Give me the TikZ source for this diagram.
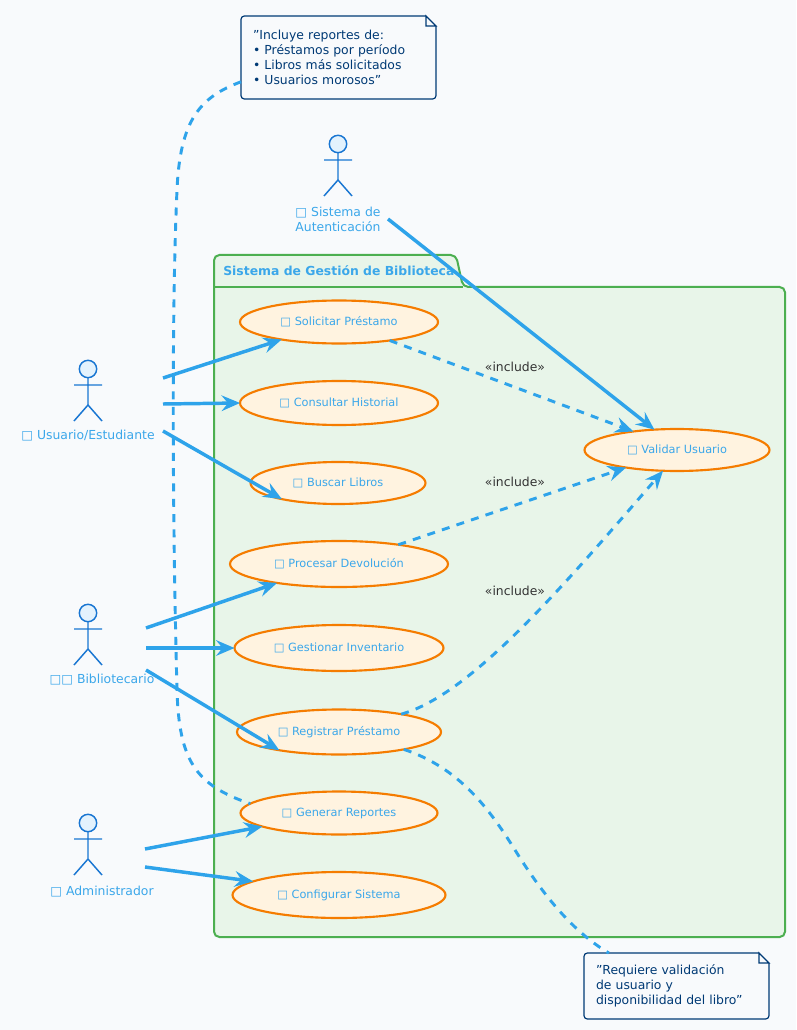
\documentclass[tikz,border=0pt]{standalone}
\usepackage{fontspec}
\setmainfont{DejaVu Sans}
\usetikzlibrary{positioning,arrows.meta,shapes.geometric}
\definecolor{pagebg}{HTML}{F8FAFC}
\definecolor{linkc}{HTML}{2EA3EA}
\definecolor{actorc}{HTML}{1976D2}
\definecolor{headc}{HTML}{E3F2FD}
\definecolor{usecasec}{HTML}{F57C00}
\definecolor{usefill}{HTML}{FFF3E0}
\definecolor{pkgc}{HTML}{4CAF50}
\definecolor{pkgfill}{HTML}{E8F5E9}
\definecolor{notec}{HTML}{003A75}
\definecolor{labelc}{HTML}{3BA7EA}
\definecolor{inclc}{HTML}{333333}

\begin{document}
\begin{tikzpicture}[x=0.75pt, y=-0.75pt,
  usecase/.style={ellipse, draw=usecasec, fill=usefill, line width=1.6pt, inner sep=0pt, outer sep=0pt,
    text=labelc, font=\fontsize{8.5pt}{10.5pt}\selectfont},
  actorname/.style={text=labelc, align=center, inner sep=0pt, font=\fontsize{9.3pt}{11.25pt}\selectfont},
  actorfig/.style={draw=actorc, line width=1.1pt},
  notebox/.style={draw=notec, line width=0.9pt},
  notetext/.style={text=notec, align=left, inner xsep=9pt, inner ysep=0pt, outer sep=0pt, font=\fontsize{9.3pt}{11.25pt}\selectfont},
  incl/.style={text=inclc, inner sep=0pt, font=\fontsize{9.3pt}{11.25pt}\selectfont},
  arr/.style={-{Stealth[length=14pt, width=12pt, inset=5pt, line width=0pt]}, draw=linkc, line width=2.6pt},
  incarr/.style={arr, line width=2.2pt, dash pattern=on 6pt off 5.5pt},
  notelink/.style={draw=linkc, line width=2.2pt, dash pattern=on 6pt off 5.5pt}]
\fill[pagebg] (0,0) rectangle (796,1030);
\useasboundingbox (0,0) rectangle (796,1030);
\filldraw[draw=pkgc, fill=pkgfill, line width=1.5pt, rounded corners=4pt]
  (214,287) -- (214,255) -- (456,255) -- (463,287) -- (785,287) -- (785,937) -- (214,937) -- cycle;
\draw[draw=pkgc, line width=1.5pt] (214,287) -- (463,287);
\node[anchor=west, text=labelc, inner sep=0pt, font=\fontsize{9.3pt}{11.25pt}\selectfont\bfseries] (pkgname) at (223,271) {Sistema de Gestión de Biblioteca};
\node[usecase, minimum width=148.5pt, minimum height=32.25pt] (solicitar) at (339,322) {□ Solicitar Préstamo};
\node[usecase, minimum width=148.5pt, minimum height=33pt] (consultar) at (339,403) {□ Consultar Historial};
\node[usecase, minimum width=131.25pt, minimum height=31.5pt] (buscar) at (338,483) {□ Buscar Libros};
\node[usecase, minimum width=163.5pt, minimum height=34.5pt] (procesar) at (339,564) {□ Procesar Devolución};
\node[usecase, minimum width=156.75pt, minimum height=34.5pt] (gestionar) at (339,648) {□ Gestionar Inventario};
\node[usecase, minimum width=153pt, minimum height=33.75pt] (registrar) at (339,732) {□ Registrar Préstamo};
\node[usecase, minimum width=147.75pt, minimum height=32.25pt] (generar) at (339,813) {□ Generar Reportes};
\node[usecase, minimum width=159.75pt, minimum height=34.5pt] (configurar) at (339,895) {□ Configurar Sistema};
\node[usecase, minimum width=138.75pt, minimum height=31.5pt] (validar) at (677,450) {□ Validar Usuario};
\foreach \ax/\ay in {88/369, 88/613, 88/823, 338/144} {
  \draw[actorfig, fill=headc] (\ax,\ay) circle[radius=8.7];
  \draw[actorfig] (\ax,\ay+8.7) -- (\ax,\ay+36) (\ax-14,\ay+16) -- (\ax+14,\ay+16)
    (\ax-14,\ay+52) -- (\ax,\ay+36) -- (\ax+14,\ay+52);
}
\node[actorname] (usuario) at (88,436) {□ Usuario/Estudiante};
\node[actorname] (biblio) at (102,680) {□□ Bibliotecario};
\node[actorname] (admin) at (102,892) {□ Administrador};
\node[actorname] (autent) at (338,219) {□ Sistema de\\Autenticación};
\coordinate (usuarioA) at (163,378);
\coordinate (usuarioB) at (163,404);
\coordinate (usuarioC) at (163,431);
\coordinate (biblioA) at (146,628);
\coordinate (biblioB) at (146,648);
\coordinate (biblioC) at (146,670);
\coordinate (adminA) at (145,849);
\coordinate (adminB) at (145,867);
\coordinate (autentA) at (388,219);
\foreach \u/\v in {usuarioA/solicitar.197, usuarioB/consultar.180, usuarioC/buscar.196.5,
  biblioA/procesar.197.3, biblioB/gestionar.180, biblioC/registrar.197.3,
  adminA/generar.190.9, adminB/configurar.171.3, autentA/validar.138.6} \draw[arr] (\u) -- (\v);
\draw[incarr] (solicitar.340) -- (validar.157.9);
\draw[incarr] (procesar.18.6) -- (validar.199.5);
\draw[incarr] (registrar.16.4) .. controls (470,695) and (560,590) .. (validar.236);
\node[incl] (inclA) at (515,367) {«include»};
\node[incl] (inclB) at (515,482) {«include»};
\node[incl] (inclC) at (515,591) {«include»};
\node[notetext, text width=128.25pt, minimum height=62.25pt] (notaRep) at (338.5,57.5) {"Incluye reportes de:\\• Préstamos por período\\• Libros más solicitados\\• Usuarios morosos"};
\node[notetext, text width=120.75pt, minimum height=49.5pt] (notaReq) at (676.5,986) {"Requiere validación\\de usuario y\\disponibilidad del libro"};
\foreach \n in {notaRep, notaReq} {
  \draw[notebox, rounded corners=2.5pt] ([xshift=-7.5pt]\n.north east) -- (\n.north west) -- (\n.south west)
    -- (\n.south east) -- ([yshift=-7.5pt]\n.north east);
  \draw[notebox] ([yshift=-7.5pt]\n.north east) -- ([xshift=-7.5pt]\n.north east) -- ([shift={(-7.5pt,-7.5pt)}]\n.north east) -- cycle;
}
\draw[notelink] (notaRep.194) .. controls (200,97) and (180,120) .. (177,190)
  .. controls (172,300) and (172,500) .. (177,690) .. controls (179,760) and (195,785) .. (generar.174);
\draw[notelink] (registrar.-15.3) .. controls (460,768) and (490,810) .. (515,850)
  .. controls (540,890) and (570,930) .. (notaReq.154.6);
\end{tikzpicture}
\end{document}
